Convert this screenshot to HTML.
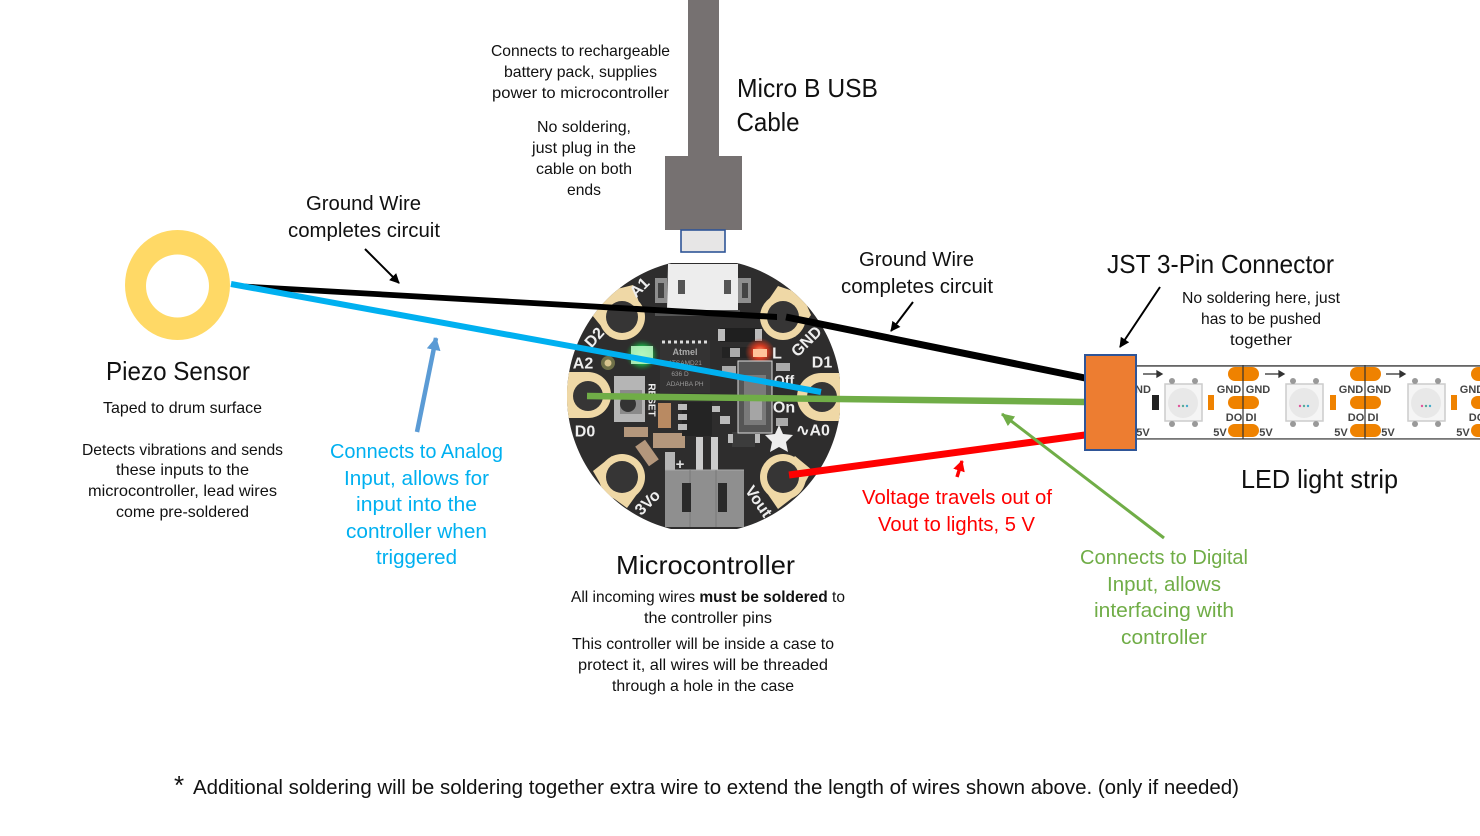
<!DOCTYPE html>
<html><head><meta charset="utf-8"><style>
html,body{margin:0;padding:0;background:#fff}
svg{display:block}
text{font-family:"Liberation Sans",sans-serif;text-anchor:middle}
.s{font-size:16px;fill:#111}
.m{font-size:20px;fill:#111}
.t{font-size:26px;fill:#111}
.b{font-size:20px;fill:#00B0F0}
.r{font-size:20px;fill:#FF0000}
.g{font-size:20px;fill:#70AD47}
.p{font-size:16px;font-weight:bold;fill:#eee;dominant-baseline:central}
.l{font-size:11px;font-weight:bold;fill:#444}
</style></head><body>
<svg width="1480" height="836" viewBox="0 0 1480 836" xmlns="http://www.w3.org/2000/svg">
<defs>
<radialGradient id="gg"><stop offset="0" stop-color="#b8ffb8"/><stop offset=".55" stop-color="#1fb04a"/><stop offset="1" stop-color="#1c5a2c" stop-opacity="0"/></radialGradient>
<radialGradient id="rg"><stop offset="0" stop-color="#ffb080"/><stop offset=".45" stop-color="#d83a20"/><stop offset="1" stop-color="#c83a20" stop-opacity="0"/></radialGradient>
<clipPath id="bc"><path d="M704 259a137 137 0 1 0 .01 0z"/></clipPath>
<clipPath id="bd"><rect x="567" y="263" width="273" height="266"/></clipPath>
<marker id="ak" markerWidth="11" markerHeight="10" refX="9" refY="5" orient="auto" markerUnits="userSpaceOnUse"><path d="M0 0L10 5L0 10z" fill="#000"/></marker>
<marker id="abl" markerWidth="14" markerHeight="14" refX="12" refY="7" orient="auto" markerUnits="userSpaceOnUse"><path d="M0 0L13 7L0 14z" fill="#5B9BD5"/></marker>
<marker id="agr" markerWidth="14" markerHeight="12" refX="12" refY="6" orient="auto" markerUnits="userSpaceOnUse"><path d="M0 0L13 6L0 12z" fill="#70AD47"/></marker>
<marker id="ard" markerWidth="12" markerHeight="12" refX="10" refY="6" orient="auto" markerUnits="userSpaceOnUse"><path d="M0 0L11 6L0 12z" fill="#f00"/></marker>
</defs>

<!-- USB cable -->
<rect x="688" y="0" width="31" height="157" fill="#767171"/>
<rect x="665" y="156" width="77" height="74" fill="#767171"/>
<rect x="681" y="230" width="44" height="22" fill="#E7E6E6" stroke="#2F5597" stroke-width="1.6"/>

<!-- Board -->
<g clip-path="url(#bd)">
<g clip-path="url(#bc)">
<rect x="560" y="255" width="290" height="280" fill="#2e2d2d"/>
<g fill="#efd8a6">
<circle cx="622" cy="317" r="23"/><path d="M633 285 L605 292 L592 315 L610 337 L640 305z"/>
<circle cx="783" cy="317" r="23"/><path d="M778 286 L802 294 L811 315 L795 337 L765 305z"/>
<circle cx="588" cy="395" r="23"/><rect x="560" y="372" width="28" height="46"/>
<circle cx="821" cy="397" r="24"/><rect x="821" y="373" width="30" height="48"/>
<circle cx="622" cy="477" r="23"/><path d="M593 471 L612 456 L640 490 L627 508 L605 492z"/>
<circle cx="783" cy="477" r="23"/><path d="M812 470 L795 456 L765 490 L778 509 L800 492z"/>
</g>
</g></g>
<g fill="#363535">
<circle cx="622" cy="317" r="16"/><circle cx="783" cy="317" r="16"/>
<circle cx="588" cy="396" r="15"/><circle cx="822" cy="397" r="15"/>
<circle cx="622" cy="477" r="16"/><circle cx="783" cy="477" r="16"/>
</g>
<circle cx="608" cy="363" r="7" fill="#6f7048"/><circle cx="608" cy="363" r="3.5" fill="#d8c48e"/>
<!-- usb port -->
<rect x="655" y="278" width="12" height="25" fill="#8e8e8e"/><rect x="738" y="278" width="13" height="25" fill="#8e8e8e"/>
<rect x="658" y="283" width="6" height="15" fill="#444"/><rect x="742" y="283" width="6" height="15" fill="#444"/>
<path d="M668 264 L738 264 L738 310 L667 310z" fill="#ededed"/>
<rect x="678" y="280" width="7" height="14" fill="#555"/><rect x="724" y="280" width="7" height="14" fill="#555"/>
<rect x="655" y="310" width="85" height="6" fill="#555"/>
<!-- chip -->
<rect x="660" y="341" width="50" height="52" fill="#343333"/>
<path d="M662 342H708" stroke="#ddd" stroke-width="3" stroke-dasharray="3 3"/>
<text x="685" y="355" style="font-size:9px;font-weight:bold;fill:#aaa">Atmel</text>
<text x="685" y="365" style="font-size:6.5px;fill:#999">ATSAMD21</text>
<text x="680" y="376" style="font-size:6.5px;fill:#999">636 D</text>
<text x="685" y="386" style="font-size:6.5px;fill:#999">ADAHBA PH</text>
<!-- LEDs -->
<ellipse cx="642" cy="355" rx="17" ry="16" fill="url(#gg)"/>
<rect x="631" y="346" width="22" height="18" fill="#b6f5c0" opacity=".9"/>
<rect x="720" y="328" width="40" height="14" fill="#1f1f1f"/>
<rect x="718" y="329" width="7" height="12" fill="#bbb"/><rect x="755" y="329" width="7" height="12" fill="#bbb"/>
<rect x="722" y="347" width="50" height="11" fill="#232323"/><rect x="730" y="348" width="10" height="9" fill="#aaa"/>
<ellipse cx="760" cy="352" rx="15" ry="14" fill="url(#rg)"/>
<rect x="753" y="349" width="14" height="8" fill="#ffc39a"/>
<!-- reset button -->
<rect x="614" y="376" width="31" height="46" fill="#b5b5b5"/>
<rect x="620" y="390" width="22" height="24" fill="#8a8a8a"/>
<circle cx="628" cy="404" r="8" fill="#333"/>
<text class="p" transform="translate(651,400) rotate(90)" style="font-size:10px">RESET</text>
<!-- caps -->
<rect x="658" y="403" width="13" height="25" fill="#b98a62"/>
<rect x="624" y="427" width="24" height="10" fill="#b4977c"/>
<rect x="653" y="433" width="32" height="15" fill="#b4977c"/>
<rect x="641" y="441" width="12" height="24" fill="#b4977c" transform="rotate(-35 647 453)"/>
<!-- regulator -->
<rect x="682" y="402" width="30" height="34" fill="#242424"/>
<g fill="#bbb"><rect x="678" y="404" width="9" height="6"/><rect x="678" y="414" width="9" height="6"/><rect x="678" y="424" width="9" height="6"/><rect x="712" y="406" width="8" height="6"/><rect x="720" y="416" width="10" height="8"/></g>
<rect x="732" y="432" width="23" height="15" fill="#3c3c3c"/>
<rect x="728" y="434" width="5" height="9" fill="#bbb"/><rect x="755" y="434" width="5" height="9" fill="#bbb"/>
<!-- switch -->
<rect x="738" y="361" width="34" height="72" fill="#555" stroke="#ddd" stroke-width="1"/>
<rect x="744" y="375" width="22" height="50" fill="#7a7a7a"/>
<rect x="750" y="400" width="12" height="20" fill="#a5a5a5"/>
<rect x="722" y="366" width="14" height="8" fill="#aaa"/><rect x="776" y="363" width="14" height="8" fill="#aaa"/><rect x="776" y="418" width="12" height="8" fill="#aaa"/>
<!-- jst -->
<rect x="665" y="452" width="10" height="18" fill="#b5b5b5"/>
<text x="680" y="469" style="font-size:15px;font-weight:bold;fill:#ddd">+</text>
<rect x="696" y="437" width="7" height="33" fill="#ccc"/><rect x="711" y="437" width="7" height="33" fill="#ccc"/>
<path d="M665 470 H744 V527 H665z" fill="#8f8f8f"/>
<path d="M665 470H744" stroke="#aaa" stroke-width="1"/>
<path d="M690 470V527M716 470V527" stroke="#7a7a7a"/>
<rect x="682" y="483" width="9" height="29" fill="#2a2a2a"/><rect x="718" y="483" width="9" height="29" fill="#2a2a2a"/>
<path d="M779 425l4 9 10 1-7 7 2 10-9-5-9 5 2-10-7-7 10-1z" fill="#eee"/>
<!-- board labels -->
<text class="p" transform="translate(640,288) rotate(-45)">A1</text>
<text class="p" transform="translate(595,338) rotate(-48)">D2</text>
<text class="p" transform="translate(583,364)">A2</text>
<text class="p" transform="translate(585,432)">D0</text>
<text class="p" transform="translate(648,503) rotate(-45)">3Vo</text>
<text class="p" transform="translate(758,502) rotate(55)">Vout</text>
<text class="p" transform="translate(813,431)">∿A0</text>
<text class="p" transform="translate(784,380)" style="font-size:14px">Off</text>
<text class="p" transform="translate(784,408)">On</text>
<text class="p" transform="translate(822,363)">D1</text>
<text class="p" transform="translate(807,342) rotate(-45)">GND</text>
<text class="p" transform="translate(777,354)">L</text>

<!-- LED strip -->
<rect x="1136" y="365" width="344" height="1.8" fill="#666"/>
<rect x="1136" y="438" width="344" height="1.8" fill="#777"/>
<g fill="#EF8200">
<rect x="1228" y="367" width="31" height="14" rx="7"/><rect x="1228" y="396" width="31" height="13" rx="6.5"/><rect x="1228" y="424" width="31" height="13" rx="6.5"/>
<rect x="1350" y="367" width="31" height="14" rx="7"/><rect x="1350" y="396" width="31" height="13" rx="6.5"/><rect x="1350" y="424" width="31" height="13" rx="6.5"/>
<rect x="1471" y="367" width="31" height="14" rx="7"/><rect x="1471" y="396" width="31" height="13" rx="6.5"/><rect x="1471" y="424" width="31" height="13" rx="6.5"/>
<rect x="1208" y="395" width="6" height="15"/><rect x="1330" y="395" width="6" height="15"/><rect x="1451" y="395" width="6" height="15"/>
</g>
<rect x="1152" y="395" width="7" height="15" fill="#222"/>
<g stroke="#333" stroke-width="1.2"><path d="M1243 365V439M1365 365V439"/></g>
<g fill="#f5f5f5" stroke="#ccc" stroke-width="1.5">
<rect x="1165" y="384" width="37" height="37"/><rect x="1286" y="384" width="37" height="37"/><rect x="1408" y="384" width="37" height="37"/>
</g>
<g fill="#e8e8e8"><circle cx="1183" cy="403" r="15"/><circle cx="1304" cy="403" r="15"/><circle cx="1426" cy="403" r="15"/></g>
<g fill="#e0569c"><circle cx="1179" cy="406" r="1.2"/><circle cx="1300" cy="406" r="1.2"/><circle cx="1422" cy="406" r="1.2"/></g>
<g fill="#5a9"><circle cx="1183" cy="406" r="1.2"/><circle cx="1304" cy="406" r="1.2"/><circle cx="1426" cy="406" r="1.2"/></g>
<g fill="#4ac"><circle cx="1187" cy="406" r="1.2"/><circle cx="1308" cy="406" r="1.2"/><circle cx="1430" cy="406" r="1.2"/></g>
<g fill="#999"><circle cx="1172" cy="381" r="3"/><circle cx="1195" cy="381" r="3"/><circle cx="1172" cy="424" r="3"/><circle cx="1195" cy="424" r="3"/><circle cx="1293" cy="381" r="3"/><circle cx="1316" cy="381" r="3"/><circle cx="1293" cy="424" r="3"/><circle cx="1316" cy="424" r="3"/><circle cx="1415" cy="381" r="3"/><circle cx="1438" cy="381" r="3"/><circle cx="1415" cy="424" r="3"/><circle cx="1438" cy="424" r="3"/></g>
<g stroke="#333" stroke-width="1.3" fill="#333">
<path d="M1143 374H1157"/><path d="M1157 371l5 3-5 3z"/>
<path d="M1265 374H1279"/><path d="M1279 371l5 3-5 3z"/>
<path d="M1386 374H1400"/><path d="M1400 371l5 3-5 3z"/>
</g>
<g>
<text class="l" x="1229" y="393">GND</text><text class="l" x="1258" y="393">GND</text>
<text class="l" x="1351" y="393">GND</text><text class="l" x="1379" y="393">GND</text>
<text class="l" x="1472" y="393">GND</text>
<text class="l" x="1234" y="421">DO</text><text class="l" x="1251" y="421">DI</text>
<text class="l" x="1356" y="421">DO</text><text class="l" x="1373" y="421">DI</text>
<text class="l" x="1477" y="421">DO</text>
<text class="l" x="1220" y="436">5V</text><text class="l" x="1266" y="436">5V</text>
<text class="l" x="1341" y="436">5V</text><text class="l" x="1388" y="436">5V</text>
<text class="l" x="1463" y="436">5V</text>
<text class="l" x="1143" y="393">ND</text><text class="l" x="1143" y="436">5V</text>
</g>

<!-- piezo -->
<ellipse cx="177.5" cy="285" rx="52.5" ry="55" fill="#FFD966"/>
<ellipse cx="177.5" cy="286" rx="31.5" ry="31.5" fill="#fff"/>

<!-- wires -->
<path d="M232 283 L777 314 L777 320 L290 292z" fill="#000"/>
<path d="M786 317 L1085 378" stroke="#000" stroke-width="7" fill="none"/>
<path d="M231 284 L821 392" stroke="#00B0F0" stroke-width="6" fill="none"/>
<path d="M587 396 L1085 402" stroke="#70AD47" stroke-width="6.5" fill="none"/>
<path d="M789 475 L1085 435" stroke="#FF0000" stroke-width="7" fill="none"/>

<!-- connector -->
<rect x="1085" y="355" width="51" height="95" fill="#ED7D31" stroke="#2F5597" stroke-width="2"/>

<!-- arrows -->
<g fill="none">
<path d="M365 249 L399 283" stroke="#000" stroke-width="2" marker-end="url(#ak)"/>
<path d="M913 302 L891 331" stroke="#000" stroke-width="2" marker-end="url(#ak)"/>
<path d="M1160 287 L1120 347" stroke="#000" stroke-width="2" marker-end="url(#ak)"/>
<path d="M417 432 L436 338" stroke="#5B9BD5" stroke-width="4.5" marker-end="url(#abl)"/>
<path d="M1164 538 L1002 414" stroke="#70AD47" stroke-width="3" marker-end="url(#agr)"/>
<path d="M957 477 L962 461" stroke="#FF0000" stroke-width="3.5" marker-end="url(#ard)"/>
</g>

<!-- text -->
<text class="s" x="580.5" y="56" textLength="179" lengthAdjust="spacingAndGlyphs">Connects to rechargeable</text>
<text class="s" x="580.5" y="77" textLength="153" lengthAdjust="spacingAndGlyphs">battery pack, supplies</text>
<text class="s" x="580.5" y="98" textLength="177" lengthAdjust="spacingAndGlyphs">power to microcontroller</text>
<text class="s" x="584" y="132" textLength="94" lengthAdjust="spacingAndGlyphs">No soldering,</text>
<text class="s" x="584" y="153" textLength="104" lengthAdjust="spacingAndGlyphs">just plug in the</text>
<text class="s" x="584" y="174" textLength="96" lengthAdjust="spacingAndGlyphs">cable on both</text>
<text class="s" x="584" y="195" textLength="34" lengthAdjust="spacingAndGlyphs">ends</text>
<text class="t" x="807.5" y="97" textLength="141" lengthAdjust="spacingAndGlyphs">Micro B USB</text>
<text class="t" x="768" y="131" textLength="63" lengthAdjust="spacingAndGlyphs">Cable</text>
<text class="m" x="363.5" y="210" textLength="115" lengthAdjust="spacingAndGlyphs">Ground Wire</text>
<text class="m" x="364" y="237" textLength="152" lengthAdjust="spacingAndGlyphs">completes circuit</text>
<text class="m" x="916.5" y="266" textLength="115" lengthAdjust="spacingAndGlyphs">Ground Wire</text>
<text class="m" x="917" y="293" textLength="152" lengthAdjust="spacingAndGlyphs">completes circuit</text>
<text class="t" x="1220.5" y="273" textLength="227" lengthAdjust="spacingAndGlyphs">JST 3-Pin Connector</text>
<text class="s" x="1261" y="303" textLength="158" lengthAdjust="spacingAndGlyphs">No soldering here, just</text>
<text class="s" x="1261" y="324" textLength="120" lengthAdjust="spacingAndGlyphs">has to be pushed</text>
<text class="s" x="1261" y="345" textLength="62" lengthAdjust="spacingAndGlyphs">together</text>
<text class="t" x="178" y="380" textLength="144" lengthAdjust="spacingAndGlyphs">Piezo Sensor</text>
<text class="s" x="182.5" y="413" textLength="159" lengthAdjust="spacingAndGlyphs">Taped to drum surface</text>
<text class="s" x="182.5" y="455" textLength="201" lengthAdjust="spacingAndGlyphs">Detects vibrations and sends</text>
<text class="s" x="182.5" y="475" textLength="133" lengthAdjust="spacingAndGlyphs">these inputs to the</text>
<text class="s" x="182.5" y="496" textLength="189" lengthAdjust="spacingAndGlyphs">microcontroller, lead wires</text>
<text class="s" x="182.5" y="517" textLength="133" lengthAdjust="spacingAndGlyphs">come pre-soldered</text>
<text class="b" x="416.5" y="458" textLength="173" lengthAdjust="spacingAndGlyphs">Connects to Analog</text>
<text class="b" x="416.5" y="485" textLength="145" lengthAdjust="spacingAndGlyphs">Input, allows for</text>
<text class="b" x="416.5" y="511" textLength="121" lengthAdjust="spacingAndGlyphs">input into the</text>
<text class="b" x="416.5" y="538" textLength="141" lengthAdjust="spacingAndGlyphs">controller when</text>
<text class="b" x="416.5" y="564" textLength="81" lengthAdjust="spacingAndGlyphs">triggered</text>
<text class="t" x="705.5" y="574" textLength="179" lengthAdjust="spacingAndGlyphs">Microcontroller</text>
<text class="s" x="708" y="602" textLength="274" lengthAdjust="spacingAndGlyphs">All incoming wires <tspan font-weight="bold">must be soldered</tspan> to</text>
<text class="s" x="708" y="623" textLength="128" lengthAdjust="spacingAndGlyphs">the controller pins</text>
<text class="s" x="703" y="649" textLength="262" lengthAdjust="spacingAndGlyphs">This controller will be inside a case to</text>
<text class="s" x="703" y="670" textLength="250" lengthAdjust="spacingAndGlyphs">protect it, all wires will be threaded</text>
<text class="s" x="703" y="691" textLength="182" lengthAdjust="spacingAndGlyphs">through a hole in the case</text>
<text class="r" x="957" y="504" textLength="190" lengthAdjust="spacingAndGlyphs">Voltage travels out of</text>
<text class="r" x="956.5" y="531" textLength="157" lengthAdjust="spacingAndGlyphs">Vout to lights, 5 V</text>
<text class="g" x="1164" y="564" textLength="168" lengthAdjust="spacingAndGlyphs">Connects to Digital</text>
<text class="g" x="1164" y="591" textLength="114" lengthAdjust="spacingAndGlyphs">Input, allows</text>
<text class="g" x="1164" y="617" textLength="140" lengthAdjust="spacingAndGlyphs">interfacing with</text>
<text class="g" x="1164" y="644" textLength="86" lengthAdjust="spacingAndGlyphs">controller</text>
<text class="t" x="1319.5" y="488" textLength="157" lengthAdjust="spacingAndGlyphs">LED light strip</text>
<text x="179" y="794" style="font-size:26px;fill:#111">*</text>
<text class="m" x="716" y="794" textLength="1046" lengthAdjust="spacingAndGlyphs">Additional soldering will be soldering together extra wire to extend the length of wires shown above. (only if needed)</text>
</svg>
</body></html>
